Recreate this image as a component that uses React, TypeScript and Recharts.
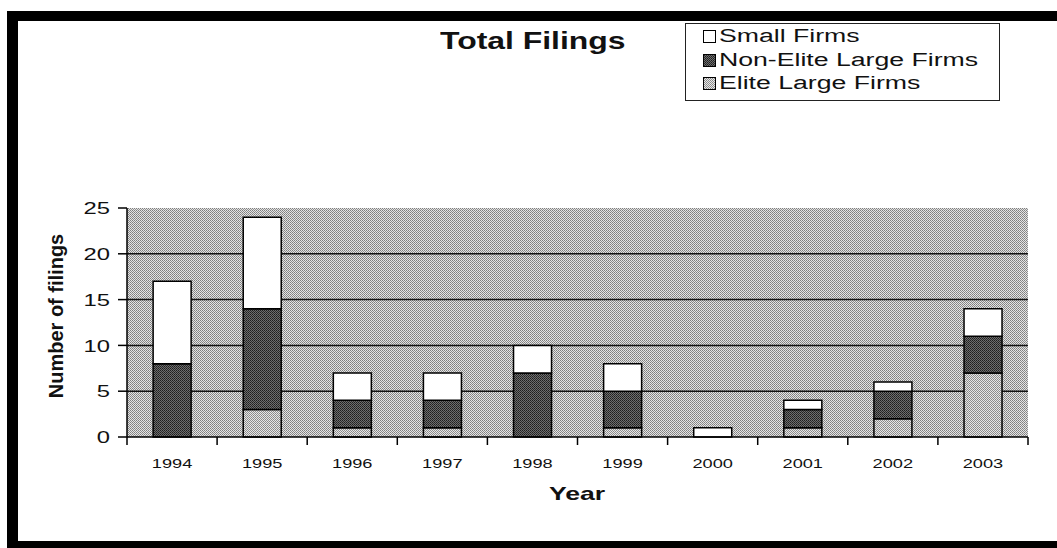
import React from 'react';
import { BarChart, Bar, XAxis, YAxis, CartesianGrid } from 'recharts';

// values
const years = ['1994', '1995', '1996', '1997', '1998', '1999', '2000', '2001', '2002', '2003'];
const smallFirms = [9, 10, 3, 3, 3, 3, 1, 1, 1, 3];
const nonEliteLargeFirms = [8, 11, 3, 3, 7, 4, 0, 2, 3, 4];
const eliteLargeFirms = [0, 3, 1, 1, 0, 1, 0, 1, 2, 7];
const yTicks = [0, 5, 10, 15, 20, 25];
const gridValues = [5, 10, 15, 20];

const data = years.map((year, i) => ({
  year,
  small: smallFirms[i],
  nonElite: nonEliteLargeFirms[i],
  elite: eliteLargeFirms[i],
}));

const W = 1057;
const H = 548;
const MARGIN = { top: 208, right: 29, bottom: 71, left: 0 };
const Y_AXIS_W = 127;
const X_AXIS_H = 40;
const PLOT_W = W - MARGIN.left - MARGIN.right - Y_AXIS_W;
const HALF_BAND = PLOT_W / years.length / 2;

const FONT = 'Arial, "Liberation Sans", sans-serif';
// the scan is stretched sideways, so the text is too
const STRETCH = 1.4;

const legendItems = [
  { label: 'Small Firms', fill: '#ffffff' },
  { label: 'Non-Elite Large Firms', fill: 'url(#patNonElite)' },
  { label: 'Elite Large Firms', fill: 'url(#patElite)' },
];

const YearTick = (props: any) => {
  const { x, y, payload, index } = props;
  return (
    <g>
      <line x1={x - HALF_BAND} x2={x - HALF_BAND} y1={y - 8} y2={y} stroke="#000" strokeWidth={1.5} />
      {index === years.length - 1 && (
        <line x1={x + HALF_BAND} x2={x + HALF_BAND} y1={y - 8} y2={y} stroke="#000" strokeWidth={1.5} />
      )}
      <text
        transform={`translate(${x},${y + 23}) scale(${STRETCH},1)`}
        textAnchor="middle"
        fontSize={13}
        fontFamily={FONT}
        fill="#111"
      >
        {payload.value}
      </text>
    </g>
  );
};

const CountTick = (props: any) => {
  const { x, y, payload } = props;
  return (
    <text
      transform={`translate(${x},${y}) scale(${STRETCH},1)`}
      textAnchor="end"
      dy="0.36em"
      fontSize={17}
      fontFamily={FONT}
      fill="#111"
    >
      {payload.value}
    </text>
  );
};

const App: React.FC = () => {
  return (
    <div style={{ position: 'absolute', left: 0, top: 0, width: W, height: H, background: '#fff', overflow: 'hidden' }}>
      {/* scan frame */}
      <div style={{ position: 'absolute', left: 7, top: 11, width: W - 7, height: 10, background: '#000' }} />
      <div style={{ position: 'absolute', left: 7, top: 11, width: 11, height: H - 11, background: '#000' }} />
      <div style={{ position: 'absolute', left: 7, top: 541, width: W - 7, height: 7, background: '#000' }} />

      <BarChart width={W} height={H} data={data} margin={MARGIN} barCategoryGap="29%">
        <defs>
          <pattern id="patBg" width={2} height={2} patternUnits="userSpaceOnUse">
            <rect width={2} height={2} fill="#e4e4e4" />
            <rect x={0} y={0} width={1} height={1} fill="#7e7e7e" />
            <rect x={1} y={1} width={1} height={1} fill="#8e8e8e" />
          </pattern>
          <pattern id="patElite" width={2} height={2} patternUnits="userSpaceOnUse">
            <rect width={2} height={2} fill="#e6e6e6" />
            <rect x={0} y={0} width={1} height={1} fill="#909090" />
            <rect x={1} y={1} width={1} height={1} fill="#888888" />
          </pattern>
          <pattern id="patNonElite" width={2} height={2} patternUnits="userSpaceOnUse">
            <rect width={2} height={2} fill="#6e6e6e" />
            <rect x={0} y={0} width={1} height={1} fill="#1e1e1e" />
            <rect x={1} y={1} width={1} height={1} fill="#2e2e2e" />
          </pattern>
        </defs>
        <CartesianGrid
          fill="url(#patBg)"
          fillOpacity={1}
          vertical={false}
          horizontalValues={gridValues}
          stroke="#000"
          strokeWidth={1.5}
          strokeOpacity={0.9}
        />
        <XAxis
          dataKey="year"
          height={X_AXIS_H}
          axisLine={{ stroke: '#000', strokeWidth: 1.5 }}
          tickLine={false}
          tickSize={8}
          tickMargin={0}
          interval={0}
          tick={<YearTick />}
        />
        <YAxis
          width={Y_AXIS_W}
          domain={[0, 25]}
          ticks={yTicks}
          interval={0}
          axisLine={{ stroke: '#000', strokeWidth: 1.5 }}
          tickLine={{ stroke: '#000', strokeWidth: 1.5 }}
          tickSize={9}
          tickMargin={8}
          tick={<CountTick />}
        />
        <Bar dataKey="elite" stackId="f" fill="url(#patElite)" stroke="#000" strokeWidth={1.5} isAnimationActive={false} />
        <Bar dataKey="nonElite" stackId="f" fill="url(#patNonElite)" stroke="#000" strokeWidth={1.5} isAnimationActive={false} />
        <Bar dataKey="small" stackId="f" fill="#ffffff" stroke="#000" strokeWidth={1.5} isAnimationActive={false} />
      </BarChart>

      {/* legend */}
      <div
        style={{
          position: 'absolute',
          left: 685,
          top: 23,
          width: 315,
          height: 78,
          boxSizing: 'border-box',
          border: '1px solid #222',
          background: '#fff',
          paddingTop: 1,
          paddingLeft: 17,
          fontFamily: FONT,
          fontSize: 18,
          color: '#111',
        }}
      >
        {legendItems.map((item) => (
          <div key={item.label} style={{ display: 'flex', alignItems: 'center', height: 23.5 }}>
            <svg width={13} height={13} style={{ marginRight: 3, flex: 'none' }}>
              <rect x={0.5} y={0.5} width={12} height={12} fill={item.fill} stroke="#000" strokeWidth={1} />
            </svg>
            <span style={{ display: 'inline-block', transform: 'scaleX(1.48)', transformOrigin: 'left center', whiteSpace: 'nowrap' }}>
              {item.label}
            </span>
          </div>
        ))}
      </div>

      <div
        style={{
          position: 'absolute',
          left: 440,
          top: 29,
          fontFamily: FONT,
          fontWeight: 'bold',
          fontSize: 24,
          lineHeight: 1,
          color: '#111',
          whiteSpace: 'nowrap',
          transform: 'scaleX(1.33)',
          transformOrigin: 'left top',
        }}
      >
        Total Filings
      </div>
      <div
        style={{
          position: 'absolute',
          left: 56,
          top: 316,
          transform: 'translate(-50%, -50%) rotate(-90deg)',
          whiteSpace: 'nowrap',
          fontFamily: FONT,
          fontWeight: 'bold',
          fontSize: 20,
          color: '#111',
        }}
      >
        Number of filings
      </div>
      <div
        style={{
          position: 'absolute',
          left: 577,
          top: 494,
          transform: `translate(-50%, -50%) scaleX(${STRETCH})`,
          fontFamily: FONT,
          fontWeight: 'bold',
          fontSize: 19,
          color: '#111',
        }}
      >
        Year
      </div>
    </div>
  );
};

export default App;
